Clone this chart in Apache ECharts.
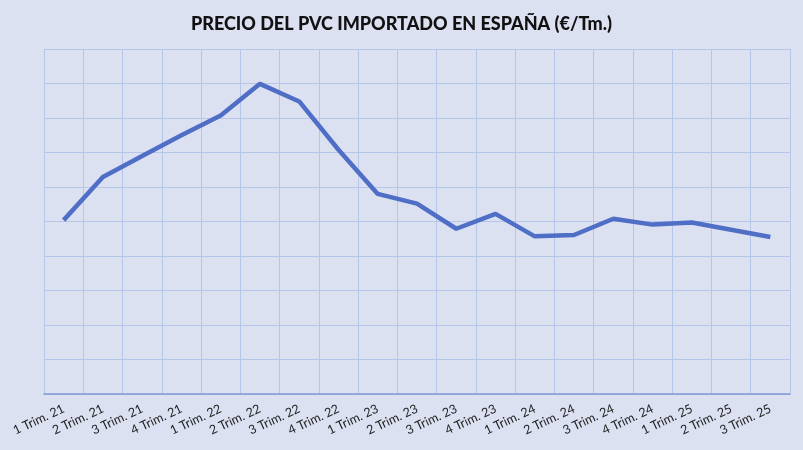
<!DOCTYPE html>
<html>
<head>
<meta charset="utf-8">
<script src="https://cdn.jsdelivr.net/npm/echarts@6/dist/echarts.min.js"></script>
<style>
  html, body { margin: 0; padding: 0; background: #dce1f2; }
  #chart { width: 803px; height: 450px; }
</style>
</head>
<body>
<div id="chart"></div>
<script>
const categories = [
  '1 Trim. 21', '2 Trim. 21', '3 Trim. 21', '4 Trim. 21',
  '1 Trim. 22', '2 Trim. 22', '3 Trim. 22', '4 Trim. 22',
  '1 Trim. 23', '2 Trim. 23', '3 Trim. 23', '4 Trim. 23',
  '1 Trim. 24', '2 Trim. 24', '3 Trim. 24', '4 Trim. 24',
  '1 Trim. 25', '2 Trim. 25', '3 Trim. 25'
];
// no scale printed on the picture, values read as grid units (0-10)
const prices = [
  5.04, 6.29, 6.90, 7.50,
  8.07, 8.99, 8.48, 7.08,
  5.80, 5.52, 4.79, 5.22,
  4.57, 4.61, 5.08, 4.91,
  4.97, 4.76, 4.55
];
const title = 'PRECIO DEL PVC IMPORTADO EN ESPAÑA (€/Tm.)';

const chart = echarts.init(document.getElementById('chart'));

chart.setOption({
  backgroundColor: '#dce1f2',
  animation: false,
  title: {
    text: title,
    left: 'center',
    top: 10,
    textStyle: {
      fontFamily: 'Lato',
      fontSize: 18,
      fontWeight: 900,
      color: '#111'
    }
  },
  grid: { left: 44, right: 13, top: 49, bottom: 56 },
  xAxis: {
    type: 'category',
    data: categories,
    boundaryGap: true,
    axisTick: { show: false },
    axisLine: { lineStyle: { color: '#8296d4', width: 1.5 } },
    splitLine: { show: true, lineStyle: { color: '#b6c5ea', width: 1 } },
    axisLabel: {
      interval: 0,
      rotate: 25,
      margin: 14,
      fontFamily: 'Lato',
      fontSize: 12.5,
      color: '#222'
    }
  },
  yAxis: {
    type: 'value',
    min: 0,
    max: 10,
    interval: 1,
    axisLabel: { show: false },
    axisLine: { show: false },
    axisTick: { show: false },
    splitLine: { lineStyle: { color: '#b6c5ea', width: 1 } }
  },
  series: [{
    type: 'line',
    data: prices,
    symbol: 'none',
    lineStyle: { color: '#4f6ec5', width: 4.5 }
  }]
});
</script>
</body>
</html>
